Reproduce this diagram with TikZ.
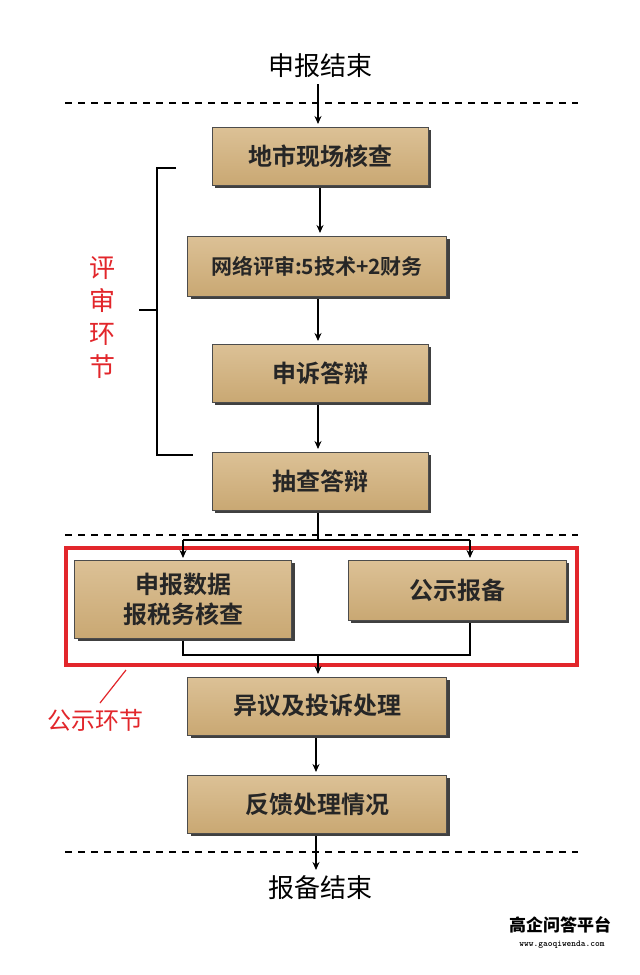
\documentclass[tikz,border=0pt]{standalone}
\usepackage{fontspec}
\setmainfont{Noto Sans CJK SC}
\newfontfamily\cjkb{Noto Sans CJK SC Bold}
\usetikzlibrary{arrows.meta,shadows}
\definecolor{tan}{HTML}{C9A873}
\definecolor{tanl}{HTML}{DCC196}
\definecolor{redc}{HTML}{E2262B}
\tikzset{
 box/.style={draw=black!70,line width=0.6pt,top color=tanl,bottom color=tan,minimum height=58pt,
   font=\cjkb\fontsize{24pt}{28pt}\selectfont,align=center,text=black!85,inner sep=2pt,
   drop shadow={shadow xshift=3pt,shadow yshift=-3pt,fill=black!75,opacity=1}},
 arr/.style={-{Stealth[length=8pt,width=7pt]},line width=1.2pt},
 ln/.style={line width=1.2pt},
 dash line/.style={dashed,line width=1.6pt,dash pattern=on 7pt off 6pt},
 lbl/.style={font=\fontsize{26pt}{30pt}\selectfont}
}
\begin{document}
\begin{tikzpicture}[x=1pt,y=-1pt]
\useasboundingbox[fill=white] (0,0) rectangle (640,975);
\node[lbl] (s) at (320,66) {申报结束};
\draw[dash line] (65,103) -- (578,103);
\node[box,minimum width=216pt] (b1) at (320,156) {地市现场核查};
\node[box,minimum width=259pt,minimum height=60pt,font=\cjkb\fontsize{21pt}{24pt}\selectfont] (b2) at (317,266) {网络评审:5技术+2财务};
\node[box,minimum width=216pt] (b3) at (320,373) {申诉答辩};
\node[box,minimum width=216pt] (b4) at (320,481) {抽查答辩};
\draw[dash line] (65,535) -- (578,535);
\draw[redc,line width=4pt] (66,548) rectangle (577,665);
\node[box,minimum width=217pt,minimum height=78pt,font=\cjkb\fontsize{24pt}{30pt}\selectfont] (b5) at (183,599) {申报数据\\报税务核查};
\node[box,minimum width=218pt,minimum height=60pt] (b6) at (457,590) {公示报备};
\node[box,minimum width=259pt] (b7) at (317,706) {异议及投诉处理};
\node[box,minimum width=259pt] (b8) at (317,804) {反馈处理情况};
\draw[dash line] (65,852) -- (578,852);
\node[lbl] (e) at (320,888) {报备结束};
% arrows
\draw[arr] (318,84) -- (318,124);
\draw[arr] (320,188) -- (320,233);
\draw[arr] (318,299) -- (318,341);
\draw[arr] (318,405) -- (318,449);
\coordinate (j1) at (318,540);
\draw[ln] (318,513) -- (j1);
\draw[ln] (183,540) -- (470,540);
\draw[arr] (183,540) -- (183,558);
\draw[arr] (470,540) -- (470,558);
\coordinate (j2) at (318,655);
\draw[ln] (183,641) -- (183,655) -- (470,655) -- (470,623);
\draw[arr] (j2) -- (318,674);
\draw[arr] (316,738) -- (316,772);
\draw[arr] (316,836) -- (316,870);
% bracket
\draw[line width=1.5pt] (176,168) -- (157,168) -- (157,455) -- (193,455);
\draw[line width=1.5pt] (157,310) -- (139,310);
\node[redc,font=\fontsize{26pt}{33pt}\selectfont,align=center] (r1) at (102,318) {评\\审\\环\\节};
\node[redc,font=\fontsize{24pt}{28pt}\selectfont] (r2) at (95,720) {公示环节};
\draw[redc,line width=1.2pt] (126,670) -- (100,703);
\node[font=\bfseries\fontsize{17pt}{20pt}\selectfont] (w1) at (560,925) {高企问答平台};
\node[font=\ttfamily\bfseries\fontsize{9pt}{11pt}\selectfont] (w2) at (562,945) {www.gaoqiwenda.com};
\end{tikzpicture}
\end{document}
